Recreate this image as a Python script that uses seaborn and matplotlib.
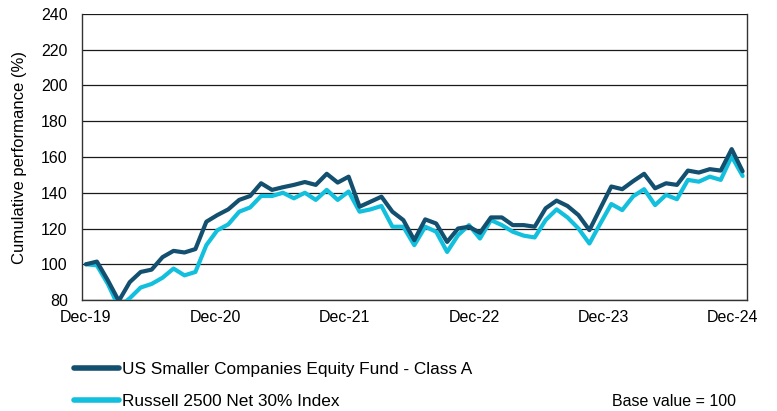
import numpy as np
import pandas as pd
import matplotlib
matplotlib.use("Agg")
import matplotlib.pyplot as plt
import seaborn as sns

# ---- data (monthly, Dec-19 .. Dec-24, base 100) ----
fund_name = "US Smaller Companies Equity Fund - Class A"
index_name = "Russell 2500 Net 30% Index"

fund = [100, 101.5, 91, 79.5, 90, 95.7, 97, 104, 107.5, 106.6, 108.5,
        123.8, 127.5, 130.7, 136, 138.2, 145.3, 141.6, 143.1, 144.4, 146,
        144.4, 150.6, 145.7, 149, 132.2, 135, 137.8, 129.4, 124.7, 113.5,
        125.1, 122.8, 112.5, 120, 121, 117.6, 126.2, 126.2, 121.9, 121.9,
        121, 131.3, 135.6, 132.6, 127.5, 119.1, 131.3, 143.5, 142, 146.5,
        150.6, 142.5, 145.3, 144.4, 152.4, 151.3, 153.2, 152.4, 164.4, 152]

index_vals = [100, 99.4, 89, 76, 81, 87, 89, 92.5, 97.6, 93.8, 95.7,
              110.7, 119, 122.3, 129.4, 131.8, 138.2, 138.2, 140, 136.9, 140,
              136, 141.6, 136, 140.7, 129.4, 130.7, 132.6, 121, 121, 110.7,
              121, 118.2, 106.9, 116.3, 121.9, 114.4, 124.7, 121.9, 118.2, 116,
              115, 124.7, 130.7, 126.2, 120, 111.6, 122.8, 133.7, 130.3, 138,
              142, 133.1, 138.8, 136.4, 147.2, 146.2, 149, 147.2, 160.3, 149.4]

x_labels = ["Dec-19", "Dec-20", "Dec-21", "Dec-22", "Dec-23", "Dec-24"]
y_ticks = [80, 100, 120, 140, 160, 180, 200, 220, 240]

months = np.arange(len(fund))
df = pd.DataFrame({
    "month": np.concatenate([months, months]),
    "value": fund + index_vals,
    "series": [fund_name] * len(fund) + [index_name] * len(index_vals),
})

# ---- style ----
sns.set_theme(style="white")
plt.rcParams["font.family"] = ["Liberation Sans", "DejaVu Sans"]

fund_color = "#134F6F"
index_color = "#12C0DE"

fig = plt.figure(figsize=(7.77, 4.11), dpi=100)
ax = fig.add_axes([0.105, 0.27, 0.8564, 0.696])

sns.lineplot(data=df[df.series == index_name], x="month", y="value",
             color=index_color, linewidth=3.0, ax=ax, zorder=3, legend=False)
sns.lineplot(data=df[df.series == fund_name], x="month", y="value",
             color=fund_color, linewidth=3.0, ax=ax, zorder=4, legend=False)

ax.set_ylim(80, 240)
ax.set_yticks(y_ticks)
ax.set_xlim(-0.4, 60.4)
ax.set_xticks(np.arange(len(x_labels)) * 11.82)
ax.set_xticklabels(x_labels)
ax.set_xlabel("")
ax.set_ylabel("")

ax.grid(axis="y", color="#1a1a1a", linewidth=0.9)
ax.grid(axis="x", visible=False)
ax.set_axisbelow(True)
for side in ["left", "bottom", "right"]:
    ax.spines[side].set_visible(True)
    ax.spines[side].set_color("#333333")
    ax.spines[side].set_linewidth(1.0)
ax.spines["top"].set_visible(False)

ax.tick_params(axis="y", length=0, pad=10, labelsize=11.5, colors="#000000")
ax.tick_params(axis="x", length=0, pad=7.5, labelsize=11.5, colors="#000000")

fig.text(20 / 777, 0.27 + 0.696 / 2, "Cumulative performance (%)", rotation=90,
         ha="center", va="center", fontsize=12, color="#000000")

# legend
lines = ax.get_lines()
handles = [lines[1], lines[0]]
leg = fig.legend(handles, [fund_name, index_name], loc="upper left",
                 bbox_to_anchor=(67 / 777, 1 - 355 / 411), frameon=False,
                 fontsize=12.4, handlelength=2.6, handletextpad=0.2,
                 labelspacing=1.0, borderaxespad=0)
for t in leg.get_texts():
    t.set_color("#000000")
for h in leg.get_lines():
    h.set_linewidth(4.0)

fig.text(736 / 777, 1 - 401 / 411, "Base value = 100", ha="right",
         va="center", fontsize=11.5, color="#000000")

fig.savefig("out.png", dpi=100)
